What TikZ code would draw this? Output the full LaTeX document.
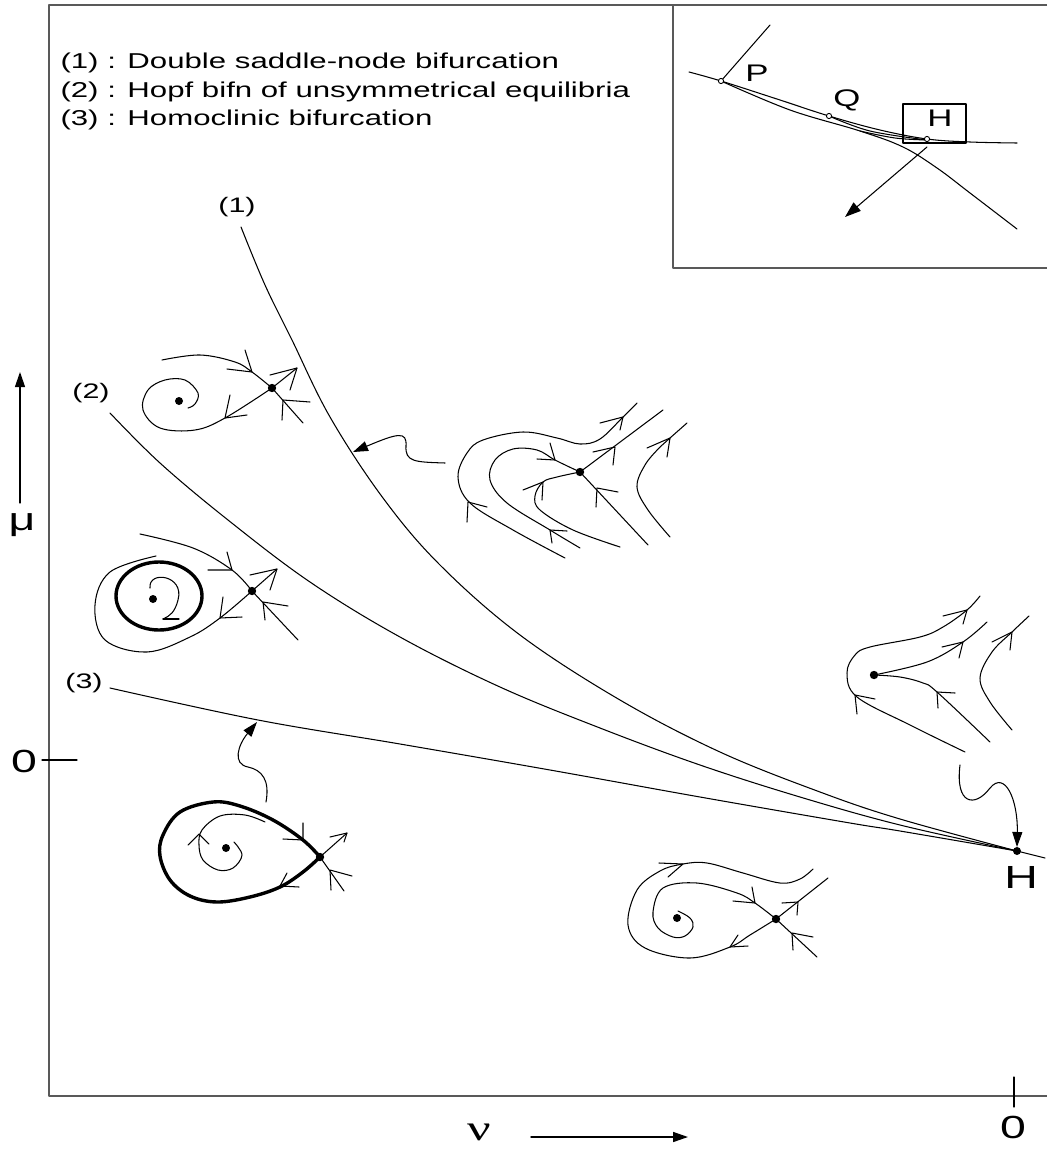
\documentclass[tikz,border=0pt]{standalone}
\usepackage{fontspec}
\setmainfont{Liberation Sans}
\newfontfamily\grserif{Liberation Serif}
\usetikzlibrary{arrows.meta}
\newcommand{\sx}[1]{\scalebox{1.45}[1]{#1}}
\begin{document}
\begin{tikzpicture}[x=1pt,y=-1pt,line width=1.05pt,line cap=round,line join=round,
  traj/.style={line width=1.05pt},
  loopst/.style={line width=3.4pt},
  chevst/.style={line width=1.05pt},
  framest/.style={line width=1.6pt,black!65,line cap=butt},
  tri/.style={-{Triangle[length=15pt,width=10pt]}},
  lbl/.style={inner sep=0pt,font=\fontsize{21}{25}\selectfont},
  leglbl/.style={inner sep=0pt,font=\fontsize{21.5}{26}\selectfont},
  biglbl/.style={inner sep=0pt,font=\fontsize{32}{34}\selectfont},
  inlbl/.style={inner sep=0pt,font=\fontsize{24}{26}\selectfont},
  eqdot/.style={fill=black},
  hollow/.style={draw=black,fill=white,line width=0.9pt}]
\useasboundingbox (0,0) rectangle (1047,1151);
\newcommand{\chev}[3]{\draw[chevst] #2 -- #1 -- #3;}
% frame
\draw[framest] (1047,5) -- (49,5) -- (49,1096) -- (1047,1096);
\draw[framest] (673,5) -- (673,268) -- (1047,268);
% ticks and axis labels
\draw (42,760) -- (77,760);
\draw (1014,1077) -- (1014,1107);
\node[biglbl] (zeroy) at (24,761) {\sx{0}};
\node[biglbl] (zerox) at (1013,1127) {\sx{0}};
\node[biglbl] (mu) at (22,525) {\sx{μ}};
\node[inner sep=0pt,font=\fontsize{36}{36}\selectfont\grserif] (nu) at (479,1132) {\sx{ν}};
\coordinate (muA) at (20,503); \coordinate (muB) at (20,372);
\draw[line width=1.2pt,-{Triangle[length=15pt,width=10pt]}] (muA) -- (muB);
\coordinate (nuA) at (531,1137); \coordinate (nuB) at (688,1137);
\draw[line width=1.5pt,-{Triangle[length=15pt,width=10pt]}] (nuA) -- (nuB);
% legend
\node[leglbl,anchor=west] (leg1) at (60,63) {\sx{(1) : Double saddle-node bifurcation}};
\node[leglbl,anchor=west] (leg2) at (60,92) {\sx{(2) : Hopf bifn of unsymmetrical equilibria}};
\node[leglbl,anchor=west] (leg3) at (60,120) {\sx{(3) : Homoclinic bifurcation}};
% curve labels
\node[lbl] (c1) at (237,207) {\sx{(1)}};
\node[lbl] (c2) at (91,393) {\sx{(2)}};
\node[lbl] (c3) at (84,683) {\sx{(3)}};
% bifurcation curves
\coordinate (H) at (1017,851);
\draw[traj] plot[smooth,tension=0.6] coordinates {(241,227) (265,285) (292,340) (330,417) (383,498) (440,565) (520,635) (620,700) (720,752) (820,792) (900,819) (1017,851)};
\draw[traj] plot[smooth,tension=0.6] coordinates {(110,413) (160,463) (228,520) (310,582) (400,637) (500,687) (600,728) (700,765) (800,797) (900,825) (1017,851)};
\draw[traj] plot[smooth,tension=0.6] coordinates {(110,688) (258,720) (400,744) (550,770) (700,797) (850,823) (900,831) (1017,851)};
\draw[traj] (H) -- (1045,858);
\fill[eqdot] (H) circle[radius=4pt];
\node[biglbl] (Hl) at (1021,877) {\sx{H}};
% wavy arrows
\coordinate (w1s) at (445,463); \coordinate (w1e) at (353,452);
\draw[traj,tri] (w1s) .. controls (415,462) and (405,462) .. (406,446) .. controls (407,431) and (398,433) .. (w1e);
\coordinate (w2s) at (266,802); \coordinate (w2e) at (257,722);
\draw[traj,tri] (w2s) .. controls (270,780) and (262,770) .. (248,767) .. controls (232,764) and (238,745) .. (w2e);
\coordinate (w3s) at (960,765); \coordinate (w3e) at (1017,847);
\draw[traj,tri] (w3s) .. controls (955,805) and (975,808) .. (990,788) .. controls (1005,770) and (1018,800) .. (w3e);
% ---------- inset ----------
\coordinate (P) at (721,81); \coordinate (Q) at (829,116); \coordinate (Hi) at (927,139);
\draw[traj] plot[smooth,tension=0.6] coordinates {(689,72) (721,81) (780,100) (829,116) (880,130) (927,139) (970,142) (1017,143)};
\draw[traj] (P) -- (770,25);
\draw[traj] plot[smooth,tension=0.6] coordinates {(721,81) (790,110) (860,131) (903,147) (937,168) (970,193) (1017,229)};
\draw[traj] plot[smooth,tension=0.6] coordinates {(829,116) (870,131) (927,140)};
\draw[traj] plot[smooth,tension=0.6] coordinates {(860,131) (895,138) (927,140)};
\draw[traj] (903,104) rectangle (966,143);
\draw[hollow] (P) circle[radius=2.6pt];
\draw[hollow] (Q) circle[radius=2.6pt];
\draw[hollow] (Hi) circle[radius=2.6pt];
\node[inlbl] (Pl) at (757,73) {\sx{P}};
\node[inlbl] (Ql) at (847,100) {\sx{Q}};
\node[inlbl] (Hil) at (940,118) {\sx{H}};
\coordinate (ia) at (927,147); \coordinate (ib) at (845,217);
\draw[traj,-{Triangle[length=16pt,width=11pt]}] (ia) -- (ib);
% ---------- portrait A ----------
\coordinate (Af) at (179,401); \coordinate (As) at (272,388);
\draw[traj] plot[smooth,tension=0.6] coordinates {(As) (225,418) (195,430) (160,428) (143,410) (148,390) (165,380) (185,380) (198,393) (195,404) (188,408)};
\draw[traj] plot[smooth,tension=0.6] coordinates {(162,360) (200,355) (235,362) (252,372) (As)};
\draw[traj] (As) -- (297,368);
\draw[traj] (303,423) -- (As);
\chev{(252,372)}{(245,350)}{(227,369)}
\chev{(297,368)}{(270,375)}{(290,390)}
\chev{(283,400)}{(310,402)}{(282,420)}
\chev{(225,418)}{(230,395)}{(247,415)}
\fill[eqdot] (Af) circle[radius=4pt];
\fill[eqdot] (As) circle[radius=4.2pt];
% ---------- portrait B ----------
\coordinate (Bf) at (153,599); \coordinate (Bs) at (252,591);
\draw[loopst] (159,596) ellipse[x radius=43pt,y radius=34pt];
\draw[traj] (150,588) .. controls (148,570) and (185,575) .. (178,600) .. controls (175,612) and (170,616) .. (163,619);
\draw[chevst] (163,619) -- (179,619);
\draw[traj] plot[smooth,tension=0.6] coordinates {(140,534) (193,548) (232,570) (Bs)};
\draw[traj] (Bs) -- (277,569);
\draw[traj] (298,640) -- (Bs);
\draw[traj] plot[smooth,tension=0.6] coordinates {(Bs) (220,618) (190,637) (147,652) (105,640) (95,605) (110,572) (156,556)};
\chev{(232,570)}{(227,552)}{(208,570)}
\chev{(277,569)}{(250,575)}{(270,590)}
\chev{(263,602)}{(288,606)}{(265,620)}
\chev{(220,618)}{(223,597)}{(242,617)}
\fill[eqdot] (Bf) circle[radius=4pt];
\fill[eqdot] (Bs) circle[radius=4.2pt];
% ---------- portrait C ----------
\coordinate (Cf) at (226,848); \coordinate (Cs) at (320,857);
\draw[loopst] plot[smooth,tension=0.6] coordinates {(Cs) (303,840) (273,820) (240,806) (213,802) (180,812) (163,835) (160,856) (170,880) (190,896) (217,902) (250,897) (280,887) (303,872) (Cs)};
\draw[traj] (Cs) -- (347,833);
\draw[traj] (344,891) -- (Cs);
\draw[traj] plot[smooth,tension=0.6] coordinates {(234,842) (242,855) (233,868) (218,870) (203,860) (199,845) (202,830) (220,816) (245,815) (265,822)};
\chev{(303,840)}{(303,823)}{(283,839)}
\chev{(280,886)}{(287,873)}{(299,887)}
\chev{(347,833)}{(330,837)}{(344,842)}
\chev{(330,870)}{(352,876)}{(331,890)}
\chev{(199,834)}{(188,845)}{(209,844)}
\fill[eqdot] (Cf) circle[radius=4pt];
\fill[eqdot] (Cs) circle[radius=4.2pt];
% ---------- portrait D ----------
\coordinate (Df) at (677,918); \coordinate (Ds) at (776,919);
\draw[traj] plot[smooth,tension=0.6] coordinates {(Ds) (750,935) (730,947) (690,958) (645,948) (628,925) (637,890) (660,871) (683,864) (707,863) (743,873) (780,883) (800,879) (813,869)};
\draw[traj] plot[smooth,tension=0.6] coordinates {(678,911) (690,918) (693,927) (685,936) (673,937) (658,928) (653,912) (663,888) (697,883) (737,893) (755,903) (Ds)};
\draw[traj] (Ds) -- (828,878);
\draw[traj] (817,957) -- (Ds);
\chev{(730,947)}{(738,935)}{(748,946)}
\chev{(683,864)}{(659,863)}{(668,877)}
\chev{(755,903)}{(752,887)}{(733,901)}
\chev{(798,902)}{(782,903)}{(797,915)}
\chev{(792,933)}{(813,937)}{(793,950)}
\fill[eqdot] (Df) circle[radius=4pt];
\fill[eqdot] (Ds) circle[radius=4.2pt];
% ---------- portrait E ----------
\coordinate (Es) at (580,472);
\draw[traj] (Es) -- (663,410);
\draw[traj] (648,545) -- (Es);
\draw[traj] plot[smooth,tension=0.6] coordinates {(565,558) (513,530) (470,503) (458,477) (467,453) (483,440) (523,432) (557,438) (580,444) (600,439) (623,417) (637,403)};
\draw[traj] plot[smooth,tension=0.6] coordinates {(580,548) (550,530) (507,503) (490,480) (495,460) (513,449) (537,450) (555,460) (Es)};
\draw[traj] plot[smooth,tension=0.6] coordinates {(620,547) (573,530) (540,510) (535,496) (543,482) (557,477) (Es)};
\draw[traj] plot[smooth,tension=0.6] coordinates {(670,537) (648,510) (637,487) (645,465) (660,447) (670,438) (687,423)};
\chev{(615,447)}{(593,452)}{(613,465)}
\chev{(597,488)}{(618,492)}{(596,507)}
\chev{(468,502)}{(467,522)}{(487,507)}
\chev{(623,417)}{(600,423)}{(620,430)}
\chev{(550,530)}{(567,531)}{(552,543)}
\chev{(555,460)}{(537,459)}{(550,443)}
\chev{(543,482)}{(523,490)}{(542,500)}
\chev{(670,438)}{(647,448)}{(667,457)}
\fill[eqdot] (Es) circle[radius=4.2pt];
% ---------- portrait F ----------
\coordinate (Fn) at (874,675);
\draw[traj] plot[smooth,tension=0.6] coordinates {(965,752) (910,725) (857,697) (847,673) (855,655) (870,647) (920,637) (943,627) (967,610) (980,596)};
\draw[traj] plot[smooth,tension=0.6] coordinates {(Fn) (927,662) (963,642) (987,622)};
\draw[traj] plot[smooth,tension=0.6] coordinates {(990,742) (937,692) (923,683) (900,677) (Fn)};
\draw[traj] plot[smooth,tension=0.6] coordinates {(1012,730) (990,702) (980,678) (992,652) (1012,632) (1029,616)};
\chev{(855,695)}{(857,714)}{(875,699)}
\chev{(967,610)}{(943,616)}{(963,624)}
\chev{(963,642)}{(942,647)}{(959,658)}
\chev{(937,692)}{(955,693)}{(938,708)}
\chev{(1012,632)}{(992,642)}{(1010,650)}
\fill[eqdot] (Fn) circle[radius=4.2pt];
\end{tikzpicture}
\end{document}
